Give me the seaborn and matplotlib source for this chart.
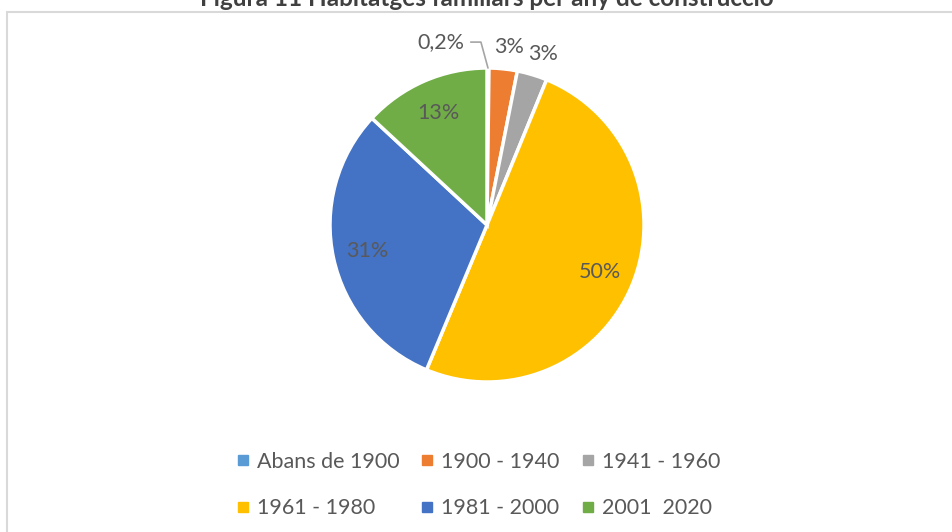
import numpy as np
import matplotlib
matplotlib.use('Agg')
import matplotlib.pyplot as plt
import seaborn as sns
from matplotlib.lines import Line2D
from matplotlib.patches import Rectangle

# data
categories = ['Abans de 1900', '1900 - 1940', '1941 - 1960', '1961 - 1980', '1981 - 2000', '2001  2020']
shares = [0.2, 2.9, 3.1, 50.1, 30.6, 13.1]
share_labels = ['0,2%', '3%', '3%', '50%', '31%', '13%']
colors = ['#5B9BD5', '#ED7D31', '#A5A5A5', '#FFC000', '#4472C4', '#70AD47']
title = 'Figura 11 Habitatges familiars per any de construcció'

sns.set_theme(style='white')
plt.rcParams['font.family'] = ['Lato', 'DejaVu Sans']
text_col = '#595959'

W, H = 952, 532
fig = plt.figure(figsize=(W / 100, H / 100), dpi=100)

# chart border (cut at right/bottom like the reference)
fig.patches.append(Rectangle((7 / W, -0.1), 1.2, 1 - 12 / H + 0.1, transform=fig.transFigure,
                             fill=False, edgecolor='#D9D9D9', linewidth=1.5, zorder=0))

# title is cut off at the top edge in the reference
fig.text(487 / W, 1 - 6 / H, title, ha='center', va='baseline', fontsize=17.5,
         fontweight='bold', color='#404040')

cx, cy, r = 487, 225, 157
ax = fig.add_axes([(cx - r) / W, 1 - (cy + r) / H, 2 * r / W, 2 * r / H])
wedges, _ = ax.pie(shares, colors=colors, startangle=90, counterclock=False,
                   wedgeprops=dict(edgecolor='white', linewidth=2.5))
ax.set_xlim(-1, 1)
ax.set_ylim(-1, 1)
ax.axis('off')

for w, lab, v in zip(wedges, share_labels, shares):
    mid = np.deg2rad((w.theta1 + w.theta2) / 2)
    if v < 1:
        # small slice: label sits left with a leader line
        x0, y0 = np.cos(mid), np.sin(mid)
        ax.plot([x0, x0 - 0.045, x0 - 0.11], [y0, y0 + 0.165, y0 + 0.165],
                color='#A5A5A5', lw=1.2, clip_on=False)
        ax.text(x0 - 0.15, y0 + 0.165, lab, ha='right', va='center', fontsize=15.5,
                color=text_col)
    elif v < 10:
        ax.text(1.16 * np.cos(mid) + 0.02, 1.16 * np.sin(mid) - 0.02, lab, ha='center',
                va='center', fontsize=15.5, color=text_col)
    else:
        ax.text(0.78 * np.cos(mid), 0.78 * np.sin(mid), lab, ha='center', va='center',
                fontsize=15.5, color=text_col)

handles = [Line2D([], [], marker='s', linestyle='none', markersize=7,
                  markerfacecolor=c, markeredgecolor=c) for c in colors]
order = [0, 3, 1, 4, 2, 5]
fig.legend([handles[i] for i in order], [categories[i] for i in order], ncol=3,
           loc='center', bbox_to_anchor=(478 / W, 1 - 485 / H), frameon=False,
           fontsize=15.5, labelcolor=text_col, handlelength=0.6, handletextpad=0.35,
           columnspacing=1.0, labelspacing=1.25)

fig.savefig('out.png', dpi=100)
